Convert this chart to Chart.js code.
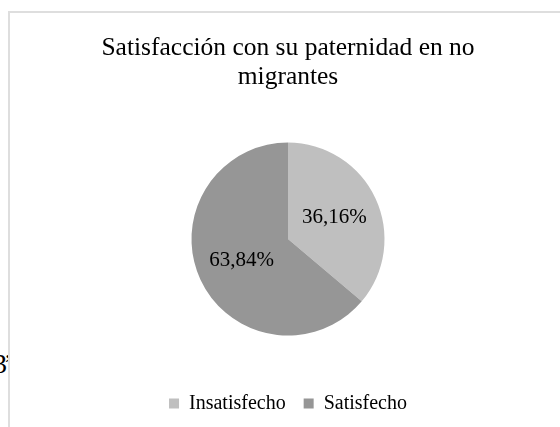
<!DOCTYPE html>
<html lang="es">
<head>
<meta charset="utf-8">
<title>Satisfacción con su paternidad en no migrantes</title>
<script src="https://cdn.jsdelivr.net/npm/chart.js@4/dist/chart.umd.min.js"></script>
<style>
    html, body { margin: 0; padding: 0; background: #fff; overflow: hidden; }
    body { width: 560px; height: 427px; position: relative; }
    #resto {
        position: absolute; left: -7px; top: 348px; z-index: 0; letter-spacing: -3.5px;
        font-family: 'Liberation Serif', 'Times New Roman', serif; font-size: 28px; color: #000;
    }
    #marco {
        position: absolute; left: 8px; top: 11px; width: 600px; height: 500px; z-index: 1;
        background: #fff; border: 2px solid #dedede;
    }
    #grafica { position: absolute; left: 0; top: 0; z-index: 2; }
</style>
</head>
<body>
<span id="resto">3’</span>
<div id="marco"></div>
<canvas id="grafica" width="576" height="427"></canvas>

<script>
// --- DATOS ---
const titulo = ['Satisfacción con su paternidad en no', 'migrantes'];
const categorias = ['Insatisfecho', 'Satisfecho'];
const porcentajes = [36.16, 63.84];
const colores = ['#BFBFBF', '#969696'];

const FUENTE = "'Liberation Serif', 'Times New Roman', serif";

function formatoPorcentaje(v) {
    return v.toFixed(2).replace('.', ',') + '%';
}

// Etiquetas de porcentaje dentro de cada rebanada
const etiquetasPorcentaje = {
    id: 'etiquetasPorcentaje',
    afterDatasetsDraw(chart) {
        const { ctx } = chart;
        const meta = chart.getDatasetMeta(0);
        ctx.save();
        ctx.font = `21px ${FUENTE}`;
        ctx.fillStyle = '#000';
        ctx.textAlign = 'center';
        ctx.textBaseline = 'middle';
        meta.data.forEach((arco, i) => {
            const { x, y, startAngle, endAngle, outerRadius } =
                arco.getProps(['x', 'y', 'startAngle', 'endAngle', 'outerRadius'], true);
            const medio = (startAngle + endAngle) / 2;
            const r = outerRadius * 0.53;
            ctx.fillText(formatoPorcentaje(porcentajes[i]), x + Math.cos(medio) * r, y + Math.sin(medio) * r);
        });
        ctx.restore();
    }
};

new Chart(document.getElementById('grafica'), {
    type: 'pie',
    data: {
        labels: categorias,
        datasets: [{
            data: porcentajes,
            backgroundColor: colores,
            borderWidth: 0,
            radius: 96.5
        }]
    },
    options: {
        responsive: false,
        animation: false,
        layout: { padding: { top: 0, bottom: 3.5, left: 0, right: 0 } },
        plugins: {
            title: {
                display: true,
                text: titulo,
                color: '#000',
                font: { family: FUENTE, size: 25.5, weight: 'normal', lineHeight: 1.14 },
                padding: { top: 34, bottom: 10.5 }
            },
            legend: {
                position: 'bottom',
                labels: {
                    color: '#000',
                    boxWidth: 10,
                    boxHeight: 10,
                    padding: 18,
                    font: { family: FUENTE, size: 20 }
                }
            },
            tooltip: { enabled: false }
        }
    },
    plugins: [etiquetasPorcentaje]
});
</script>
</body>
</html>
